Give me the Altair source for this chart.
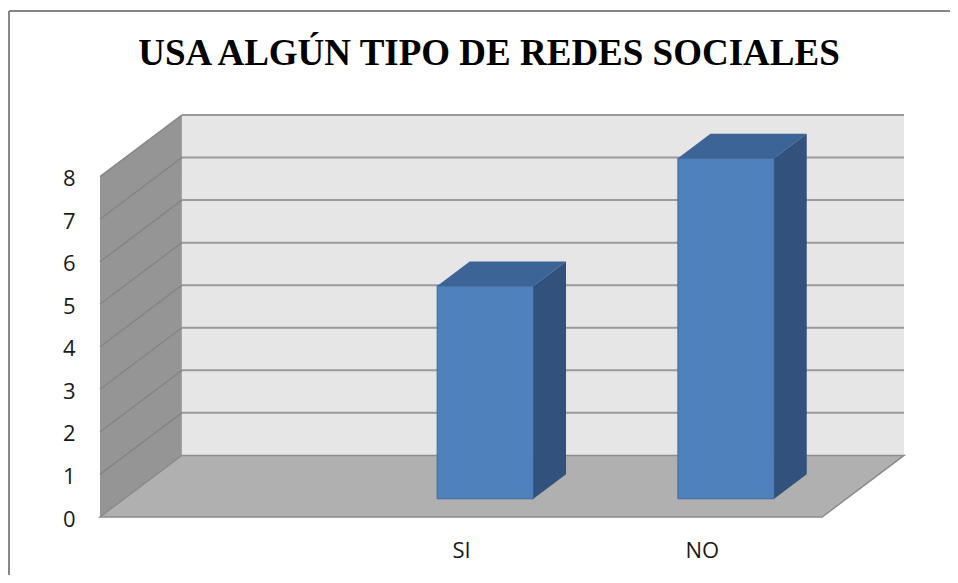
import json
import altair as alt
import pandas as pd

# ---- data -------------------------------------------------------------
categories = ["", "SI", "NO"]
values = [None, 5, 8]
y_ticks = [0, 1, 2, 3, 4, 5, 6, 7, 8]
title_text = "USA ALGÚN TIPO DE REDES SOCIALES"

# ---- oblique 3-D projection parameters (in scale units) -----------------
DX = 0.34     # depth shift, category units
DY = 1.447    # depth shift, value units
Z0, Z1 = 0.296, 0.694   # bar depth range (0 = front, 1 = back)
F0, F1 = 0.3, 0.7       # bar extent inside a category slot
YMAX = max(y_ticks)
n = len(categories)

xs = alt.Scale(domain=[0, n + DX], nice=False, zero=False)
ys = alt.Scale(domain=[0, YMAX + DY], nice=False, zero=False)

LABEL_FONT = "Open Sans"
x_axis = alt.Axis(values=[i + 0.5 for i in range(n)],
                  labelExpr=json.dumps(categories) + "[floor(datum.value)]",
                  domain=False, ticks=False, grid=False, title=None,
                  labelFont=LABEL_FONT, labelFontSize=22, labelColor="#1a1a1a",
                  labelPadding=23)
y_axis = alt.Axis(values=y_ticks, domain=False, ticks=False, grid=False, title=None,
                  labelFont=LABEL_FONT, labelFontSize=22, labelColor="#1a1a1a",
                  labelPadding=25, labelOffset=2)


def X(f="x"):
    return alt.X(f + ":Q", scale=xs, axis=x_axis, stack=None)


def Y(f="y"):
    return alt.Y(f + ":Q", scale=ys, axis=y_axis, stack=None)


# ---- walls and floor -----------------------------------------------------
wall_df = pd.DataFrame([{"x": DX, "x2": n + DX, "y": DY, "y2": YMAX + DY}])
back_wall = alt.Chart(wall_df).mark_rect(color="#e6e6e6").encode(
    x=X(), x2="x2:Q", y=Y(), y2="y2:Q")

grid_df = pd.DataFrame([{"x": DX, "x2": n + DX, "y": k + DY} for k in y_ticks[1:]])
back_grid = alt.Chart(grid_df).mark_rule(color="#9a9a9a", strokeWidth=2).encode(
    x=X(), x2="x2:Q", y=Y())

left_df = pd.DataFrame([{"x": 0, "y": 0, "y2": YMAX},
                        {"x": DX, "y": DY, "y2": YMAX + DY}])
left_wall = alt.Chart(left_df).mark_area(orient="vertical", color="#959595").encode(
    x=X(), y=Y(), y2="y2:Q")

diag_df = pd.DataFrame([{"x": 0, "y": k, "x2": DX, "y2": k + DY} for k in y_ticks[1:]])
left_grid = alt.Chart(diag_df).mark_rule(color="#858585", strokeWidth=1.5).encode(
    x=X(), y=Y(), x2="x2:Q", y2="y2:Q")

floor_df = pd.DataFrame([{"y": 0, "x": 0, "x2": n},
                         {"y": DY, "x": DX, "x2": n + DX}])
floor = alt.Chart(floor_df).mark_area(orient="horizontal", color="#b0b0b0",
                                      stroke="#8c8c8c", strokeWidth=1.5).encode(
    y=Y(), x=X(), x2="x2:Q")

# ---- bars ------------------------------------------------------------------
front_rows, top_rows, side_rows = [], [], []
for i, (c, v) in enumerate(zip(categories, values)):
    if v is None:
        continue
    front_rows.append({"cat": c, "x": i + F0 + Z0 * DX, "x2": i + F1 + Z0 * DX,
                       "y": Z0 * DY, "y2": v + Z0 * DY})
    for z in (Z0, Z1):
        top_rows.append({"cat": c, "y": v + z * DY,
                         "x": i + F0 + z * DX, "x2": i + F1 + z * DX})
        side_rows.append({"cat": c, "x": i + F1 + z * DX,
                          "y": z * DY, "y2": v + z * DY})

bar_front = alt.Chart(pd.DataFrame(front_rows)).mark_rect(
    color="#4f81bd", stroke="#3e6b9f", strokeWidth=1).encode(
    x=X(), x2="x2:Q", y=Y(), y2="y2:Q")
bar_top = alt.Chart(pd.DataFrame(top_rows)).mark_area(
    orient="horizontal", color="#3c6496").encode(
    y=Y(), x=X(), x2="x2:Q", detail="cat:N")
bar_side = alt.Chart(pd.DataFrame(side_rows)).mark_area(
    orient="vertical", color="#32527d").encode(
    x=X(), y=Y(), y2="y2:Q", detail="cat:N")

# ---- outer chart-area frame and title (decoration) --------------------------
frame_top = alt.Chart(pd.DataFrame([{"a": 1}])).mark_rule(
    color="#878787", strokeWidth=2).encode(
    x=alt.value(-91), x2=alt.value(900), y=alt.value(-104))
frame_left = alt.Chart(pd.DataFrame([{"a": 1}])).mark_rule(
    color="#878787", strokeWidth=2).encode(
    x=alt.value(-91), y=alt.value(-104), y2=alt.value(520))

title = alt.Chart(pd.DataFrame([{"t": title_text}])).mark_text(
    font="Liberation Serif", fontSize=37, fontWeight="bold", color="#000000",
    align="center", baseline="alphabetic").encode(
    text="t:N", x=alt.value(389), y=alt.value(-50))

chart = alt.layer(
    frame_top, frame_left, back_wall, back_grid, left_wall, left_grid, floor,
    bar_front, bar_top, bar_side, title,
).properties(
    width=804, height=402,
    autosize=alt.AutoSizeParams(type="none"),
    padding={"left": 92, "top": 107, "right": 46, "bottom": 58},
).configure_view(stroke=None)

chart.save("out.html", embed_options={"renderer": "svg", "actions": False})
